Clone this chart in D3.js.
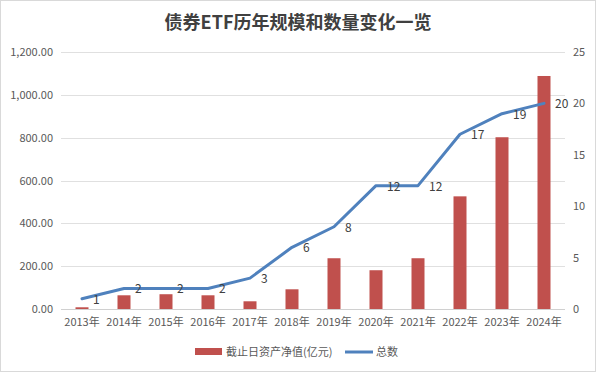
<!DOCTYPE html>
<html>
<head>
<meta charset="utf-8">
<script src="https://cdn.jsdelivr.net/npm/d3@7"></script>
<style>
  body { margin: 0; background: #fff; }
  text { font-family: "Noto Sans CJK SC", "DejaVu Sans", sans-serif; }
</style>
</head>
<body>
<script>
// chart data
var years = ["2013年", "2014年", "2015年", "2016年", "2017年", "2018年",
             "2019年", "2020年", "2021年", "2022年", "2023年", "2024年"];
var netAssets = [8, 64, 69, 64, 36, 92, 237, 181, 237, 526, 802, 1088];
var counts = [1, 2, 2, 2, 3, 6, 8, 12, 12, 17, 19, 20];
var leftTicks = [0, 200, 400, 600, 800, 1000, 1200];
var rightTicks = [0, 5, 10, 15, 20, 25];

var svgWidth = 596;
var svgHeight = 372;

var margin = { top: 52, right: 31, bottom: 63, left: 61 };
var width = svgWidth - margin.left - margin.right;
var height = svgHeight - margin.top - margin.bottom;

var svg = d3.select("body")
  .append("svg")
  .attr("width", svgWidth)
  .attr("height", svgHeight);

// outer frame
svg.append("rect")
  .attr("x", 0.5).attr("y", 0.5)
  .attr("width", svgWidth - 1).attr("height", svgHeight - 1)
  .attr("fill", "#fff")
  .attr("stroke", "#d9d9d9");

// title
svg.append("text")
  .attr("x", svgWidth / 2)
  .attr("y", 29)
  .attr("text-anchor", "middle")
  .attr("font-size", 18)
  .attr("font-weight", "bold")
  .attr("fill", "#404040")
  .text("债券ETF历年规模和数量变化一览");

var chartGroup = svg.append("g")
  .attr("transform", `translate(${margin.left}, ${margin.top})`);

var xBand = d3.scaleBand()
  .domain(years)
  .range([0, width]);

var yLeft = d3.scaleLinear()
  .domain([0, 1200])
  .range([height, 0]);

var yRight = d3.scaleLinear()
  .domain([0, 25])
  .range([height, 0]);

// gridlines
chartGroup.append("g")
  .selectAll("line")
  .data(leftTicks)
  .enter()
  .append("line")
  .attr("x1", 0)
  .attr("x2", width)
  .attr("y1", d => Math.round(yLeft(d)) + 0.5)
  .attr("y2", d => Math.round(yLeft(d)) + 0.5)
  .attr("stroke", d => d === 0 ? "#d0d0d0" : "#e0e0e0")
  .attr("stroke-width", 1);

// left axis
var leftAxis = d3.axisLeft(yLeft)
  .tickValues(leftTicks)
  .tickSize(0)
  .tickPadding(8)
  .tickFormat(d3.format(",.2f"));

chartGroup.append("g")
  .call(leftAxis)
  .call(g => g.select(".domain").remove())
  .selectAll("text")
  .attr("font-size", 11)
  .attr("fill", "#595959");

// right axis
var rightAxis = d3.axisRight(yRight)
  .tickValues(rightTicks)
  .tickSize(0)
  .tickPadding(8);

chartGroup.append("g")
  .attr("transform", `translate(${width}, 0)`)
  .call(rightAxis)
  .call(g => g.select(".domain").remove())
  .selectAll("text")
  .attr("font-size", 11)
  .attr("fill", "#595959");

// bottom axis
var bottomAxis = d3.axisBottom(xBand).tickSize(0).tickPadding(9);

chartGroup.append("g")
  .attr("transform", `translate(0, ${height})`)
  .call(bottomAxis)
  .call(g => g.select(".domain").remove())
  .selectAll("text")
  .attr("font-size", 11)
  .attr("fill", "#595959");

// bars
var barW = 13;
chartGroup.selectAll(".bar")
  .data(netAssets)
  .enter()
  .append("rect")
  .attr("class", "bar")
  .attr("x", (d, i) => xBand(years[i]) + xBand.bandwidth() / 2 - barW / 2)
  .attr("y", d => yLeft(d))
  .attr("width", barW)
  .attr("height", d => height - yLeft(d))
  .attr("fill", "#c0504d");

// count line
var line = d3.line()
  .x((d, i) => xBand(years[i]) + xBand.bandwidth() / 2)
  .y(d => yRight(d));

chartGroup.append("path")
  .datum(counts)
  .attr("d", line)
  .attr("fill", "none")
  .attr("stroke", "#4f81bd")
  .attr("stroke-width", 3)
  .attr("stroke-linejoin", "round")
  .attr("stroke-linecap", "round");

// line labels
chartGroup.selectAll(".lbl")
  .data(counts)
  .enter()
  .append("text")
  .attr("class", "lbl")
  .attr("x", (d, i) => xBand(years[i]) + xBand.bandwidth() / 2 + 11)
  .attr("y", d => yRight(d) + 5)
  .attr("font-size", 12)
  .attr("fill", "#404040")
  .text(d => d);

// legend
var legend = svg.append("g");
legend.append("rect")
  .attr("x", 195).attr("y", 348)
  .attr("width", 27).attr("height", 7)
  .attr("fill", "#c0504d");
legend.append("text")
  .attr("x", 226).attr("y", 356)
  .attr("font-size", 11)
  .attr("fill", "#595959")
  .text("截止日资产净值(亿元)");
legend.append("line")
  .attr("x1", 345).attr("x2", 373)
  .attr("y1", 352).attr("y2", 352)
  .attr("stroke", "#4f81bd")
  .attr("stroke-width", 3);
legend.append("text")
  .attr("x", 376).attr("y", 356)
  .attr("font-size", 11)
  .attr("fill", "#595959")
  .text("总数");
</script>
</body>
</html>
